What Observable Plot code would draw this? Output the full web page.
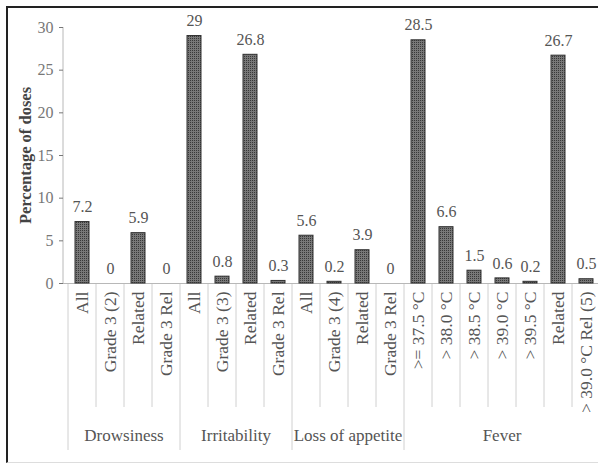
<!DOCTYPE html>
<html><head><meta charset="utf-8">
<script src="https://cdn.jsdelivr.net/npm/d3@7"></script>
<script src="https://cdn.jsdelivr.net/npm/@observablehq/plot@0.6"></script>
<style>
html,body{margin:0;padding:0;background:#fff;overflow:hidden;}
#wrap{position:relative;width:598px;height:472px;overflow:hidden;}
#frame{position:absolute;left:6px;top:6px;width:600px;height:454px;border-left:2px solid #222;border-top:2px solid #222;border-bottom:1px solid #ddd;pointer-events:none;}
</style></head><body>
<div id="wrap"></div>
<script>
const labels = ["All","Grade 3 (2)","Related","Grade 3 Rel","All","Grade 3 (3)","Related","Grade 3 Rel","All","Grade 3 (4)","Related","Grade 3 Rel",">= 37.5 °C","> 38.0 °C","> 38.5 °C","> 39.0 °C","> 39.5 °C","Related","> 39.0 °C Rel (5)"];
const groups = ["Drowsiness","Drowsiness","Drowsiness","Drowsiness","Irritability","Irritability","Irritability","Irritability","Loss of appetite","Loss of appetite","Loss of appetite","Loss of appetite","Fever","Fever","Fever","Fever","Fever","Fever","Fever"];
const groupNames = ["Drowsiness","Irritability","Loss of appetite","Fever"];
const values = [7.2,0,5.9,0,29,0.8,26.8,0.3,5.6,0.2,3.9,0,28.5,6.6,1.5,0.6,0.2,26.7,0.5];
const valueLabels = ["7.2","0","5.9","0","29","0.8","26.8","0.3","5.6","0.2","3.9","0","28.5","6.6","1.5","0.6","0.2","26.7","0.5"];
const yTicks = [0,5,10,15,20,25,30];
const yLabel = "Percentage of doses";

const SERIF = "'Liberation Serif', 'Times New Roman', serif";
const rows = labels.map((l, i) => ({i, label: l, group: groups[i], value: values[i], text: valueLabels[i]}));

function decorations(index, scales, values_, dims) {
  const x = scales.x, y = scales.y;
  const step = x(1) - x(0);
  const bw = x.bandwidth ? x.bandwidth() : step / 2;
  const center = i => x(i) + bw / 2;
  const y0 = y(0);
  const g = d3.create("svg:g");
  const defs = g.append("defs");
  const pat = defs.append("pattern").attr("id", "stipple").attr("patternUnits", "userSpaceOnUse").attr("width", 2).attr("height", 2);
  pat.append("rect").attr("width", 2).attr("height", 2).attr("fill", "#787878");
  pat.append("rect").attr("width", 1).attr("height", 1).attr("fill", "#383838");
  // y axis line
  g.append("line").attr("x1", dims.marginLeft).attr("x2", dims.marginLeft)
    .attr("y1", y(30)).attr("y2", y0).attr("stroke", "#b8b8b8");
  // separators
  rows.forEach((d, k) => {
    const bx = center(k) - step / 2;
    const isGroupStart = k === 0 || rows[k - 1].group !== d.group;
    g.append("line").attr("x1", bx).attr("x2", bx).attr("y1", y0)
      .attr("y2", y0 + (isGroupStart ? 167 : 124))
      .attr("stroke", "#d0d0d0");
  });
  // group labels
  groupNames.forEach(name => {
    const idx = rows.filter(d => d.group === name).map(d => d.i);
    const cx = (center(idx[0]) + center(idx[idx.length - 1])) / 2;
    g.append("text").attr("x", cx).attr("y", y0 + 158)
      .attr("text-anchor", "middle").attr("fill", "#555")
      .attr("font-family", SERIF)
      .attr("font-size", 17).text(name);
  });
  return g.node();
}

const chart = Plot.plot({
  width: 598,
  height: 472,
  marginTop: 27,
  marginBottom: 189,
  marginLeft: 63,
  marginRight: 0,
  style: {fontFamily: SERIF, fontSize: "16px", background: "transparent"},
  x: {type: "band", domain: d3.range(labels.length), range: [65.9, 601.7], paddingInner: 0.5, paddingOuter: 0.25},
  y: {domain: [0, 30]},
  marks: [
    decorations,
    Plot.ruleY([0], {stroke: "#b8b8b8"}),
    Plot.barY(rows.filter(d => d.value > 0), {x: "i", y: "value", fill: "url(#stipple)", stroke: "#303030", strokeWidth: 1}),
    Plot.text(rows, {x: "i", y: "value", text: "text", dy: -15, fill: "#555", fontSize: 16, fontFamily: SERIF}),
    Plot.axisY({ticks: yTicks, tickSize: 4, tickPadding: 6, label: null, color: "#777", fontSize: 16, fontFamily: SERIF}),
    Plot.axisX({tickFormat: i => labels[i], tickRotate: -90, tickSize: 0, tickPadding: 8, label: null, color: "#555", fontSize: 17.5, fontFamily: SERIF}),
    Plot.text([yLabel], {text: d => d, frameAnchor: "left", textAnchor: "middle", dx: -38, rotate: -90, fontWeight: "bold", fontSize: 16.5, fill: "#444", fontFamily: SERIF})
  ]
});
const wrap = document.getElementById("wrap");
wrap.appendChild(chart);
const frame = document.createElement("div");
frame.id = "frame";
wrap.appendChild(frame);
</script>
</body></html>
